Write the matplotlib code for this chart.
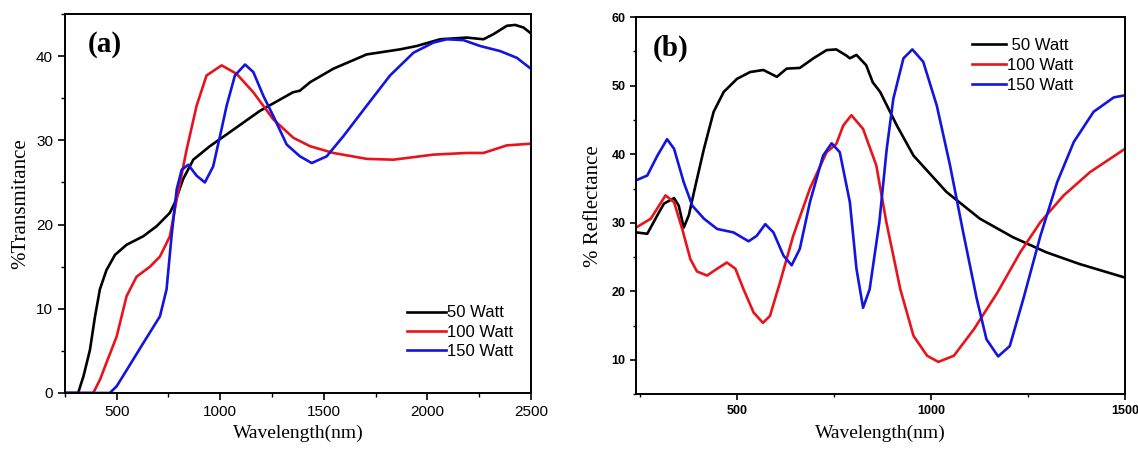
import matplotlib
matplotlib.use("Agg")
import matplotlib.pyplot as plt
import matplotlib.transforms as mtransforms
from matplotlib.ticker import MultipleLocator

# ---------------- Panel (a): Transmittance ----------------
a_50_x = [250, 314, 340, 371, 395, 419, 451, 492, 548, 628, 693, 757, 781, 821, 870, 950, 1031, 1192,
          1351, 1385, 1434, 1546, 1707, 1868, 1949, 2062, 2190, 2271, 2319, 2384, 2424, 2464, 2500]
a_50_y = [0, 0, 2.0, 5.1, 9.0, 12.3, 14.6, 16.4, 17.6, 18.6, 19.8, 21.4, 22.6, 25.4, 27.7, 29.3, 30.7,
          33.5, 35.7, 35.9, 36.9, 38.5, 40.2, 40.8, 41.2, 42.0, 42.2, 42.0, 42.6, 43.6, 43.7, 43.4, 42.7]

a_100_x = [250, 387, 420, 451, 500, 548, 596, 661, 709, 757, 790, 838, 886, 934, 1007, 1079, 1160, 1256,
           1353, 1434, 1546, 1707, 1836, 2029, 2190, 2271, 2384, 2500]
a_100_y = [0, 0, 1.6, 3.6, 6.7, 11.5, 13.8, 15.0, 16.2, 18.6, 23.0, 28.9, 34.1, 37.7, 38.9, 37.9, 35.7,
           32.5, 30.3, 29.3, 28.5, 27.8, 27.7, 28.3, 28.5, 28.5, 29.4, 29.6]

a_150_x = [250, 467, 500, 548, 628, 709, 741, 765, 790, 814, 846, 886, 926, 966, 999, 1031, 1071, 1120,
           1160, 1208, 1256, 1321, 1385, 1442, 1514, 1595, 1707, 1820, 1933, 2029, 2094, 2174, 2255,
           2351, 2432, 2500]
a_150_y = [0, 0, 0.8, 2.7, 5.9, 9.1, 12.3, 18.6, 24.2, 26.5, 27.1, 25.8, 25.0, 26.9, 30.5, 34.1, 37.7,
           39.0, 38.1, 35.3, 32.9, 29.5, 28.1, 27.3, 28.1, 30.5, 34.1, 37.7, 40.4, 41.6, 42.0, 41.9,
           41.2, 40.6, 39.8, 38.5]

# ---------------- Panel (b): Reflectance ----------------
b_50_x = [240, 269, 295, 312, 338, 350, 363, 376, 393, 415, 440, 466, 500, 534, 568, 603, 628, 662,
          697, 731, 756, 782, 791, 808, 833, 850, 869, 912, 955, 1040, 1126, 1211, 1297, 1382, 1500]
b_50_y = [28.6, 28.4, 31.1, 32.8, 33.6, 32.5, 29.3, 31.1, 35.4, 40.8, 46.2, 49.1, 51.0, 52.0, 52.3,
          51.3, 52.5, 52.6, 54.0, 55.2, 55.3, 54.4, 54.0, 54.5, 53.0, 50.5, 49.1, 44.2, 39.8, 34.5,
          30.6, 27.9, 25.7, 24.0, 22.0]

b_100_x = [240, 278, 316, 338, 359, 380, 397, 423, 449, 474, 496, 517, 543, 567, 585, 611, 645, 688,
           731, 756, 774, 795, 825, 859, 885, 921, 955, 990, 1019, 1059, 1111, 1171, 1230, 1282,
           1342, 1410, 1500]
b_100_y = [29.3, 30.6, 34.0, 33.0, 29.1, 24.7, 22.9, 22.3, 23.3, 24.2, 23.3, 20.3, 16.9, 15.4, 16.4,
           21.3, 28.1, 35.0, 40.3, 41.5, 44.2, 45.7, 43.7, 38.4, 30.1, 20.3, 13.5, 10.6, 9.7, 10.6,
           14.5, 19.8, 25.7, 30.1, 34.0, 37.4, 40.8]

b_150_x = [240, 269, 295, 320, 338, 363, 385, 415, 449, 491, 530, 551, 573, 594, 620, 641, 662, 688,
           722, 744, 765, 791, 808, 825, 842, 867, 886, 903, 929, 952, 980, 1015, 1049, 1083, 1118,
           1143, 1173, 1203, 1238, 1282, 1325, 1368, 1419, 1471, 1500]
b_150_y = [36.2, 36.9, 39.8, 42.2, 40.8, 35.9, 32.5, 30.6, 29.1, 28.6, 27.3, 28.1, 29.8, 28.6, 25.2,
           23.8, 26.2, 33.0, 39.8, 41.6, 40.3, 33.0, 23.3, 17.6, 20.3, 30.1, 40.8, 48.1, 54.0, 55.3,
           53.5, 47.1, 38.4, 28.6, 18.9, 13.0, 10.5, 12.0, 18.9, 28.1, 35.9, 41.8, 46.2, 48.3, 48.6]

labels_a = ["50 Watt", "100 Watt", "150 Watt"]
labels_b = [" 50 Watt", "100 Watt", "150 Watt"]
colors = ["#000000", "#e8141b", "#1414e0"]

serif = "Liberation Serif"
sans = "Liberation Sans"

fig = plt.figure(figsize=(11.38, 4.53), dpi=100)
axa = fig.add_axes([0.057, 0.1325, 0.4095, 0.8366])
axb = fig.add_axes([0.5589, 0.130, 0.4297, 0.832])

lw = 1.9
for x, y, c, l in zip([a_50_x, a_100_x, a_150_x], [a_50_y, a_100_y, a_150_y], colors, labels_a):
    axa.plot(x, y, color=c, lw=lw, label=l, solid_joinstyle="round")
for x, y, c, l in zip([b_50_x, b_100_x, b_150_x], [b_50_y, b_100_y, b_150_y], colors, labels_b):
    axb.plot(x, y, color=c, lw=lw, label=l, solid_joinstyle="round")

# Panel (a) axes styling
axa.set_xlim(250, 2500)
axa.set_ylim(0, 45)
axa.xaxis.set_major_locator(MultipleLocator(500))
axa.xaxis.set_minor_locator(MultipleLocator(250))
axa.yaxis.set_major_locator(MultipleLocator(10))
axa.yaxis.set_minor_locator(MultipleLocator(5))
axa.set_xlabel("Wavelength(nm)", fontfamily=serif, fontsize=14, labelpad=4)
axa.set_ylabel("%Transmitance", fontfamily=serif, fontsize=15, labelpad=4)
axa.text(0.05, 0.955, "(a)", transform=axa.transAxes, fontfamily=serif, fontweight="bold",
         fontsize=21, va="top", ha="left")
for lab in axa.get_xticklabels() + axa.get_yticklabels():
    lab.set_fontfamily(sans)
    lab.set_fontsize(11)
axa.tick_params(which="major", direction="out", length=5, width=1.2, top=False, right=False)
axa.tick_params(which="minor", direction="out", length=3, width=1.0, top=False, right=False)
for s in axa.spines.values():
    s.set_linewidth(1.4)
la = axa.legend(loc="lower right", frameon=False,
                prop={"family": sans, "size": 12}, handlelength=2.3, handletextpad=0.1,
                labelspacing=0.25, borderaxespad=1.2)
la.set_bbox_to_anchor((1.02, 0.02), transform=axa.transAxes)

# Panel (b) axes styling
axb.set_xlim(240, 1500)
axb.set_ylim(5, 60)
axb.xaxis.set_major_locator(MultipleLocator(500))
axb.xaxis.set_minor_locator(MultipleLocator(250))
axb.yaxis.set_major_locator(MultipleLocator(10))
axb.yaxis.set_minor_locator(MultipleLocator(5))
axb.set_yticks([10, 20, 30, 40, 50, 60])
axb.set_xlabel("Wavelength(nm)", fontfamily=serif, fontsize=14, labelpad=6)
axb.set_ylabel("% Reflectance", fontfamily=serif, fontsize=15, labelpad=6)
axb.text(0.035, 0.955, "(b)", transform=axb.transAxes, fontfamily=serif, fontweight="bold",
         fontsize=21, va="top", ha="left")
for lab in axb.get_xticklabels() + axb.get_yticklabels():
    lab.set_fontfamily(sans)
    lab.set_fontsize(9)
    lab.set_fontweight("bold")
axb.tick_params(which="major", direction="out", length=4, width=1.2, top=False, right=False)
axb.tick_params(which="minor", direction="out", length=2.5, width=1.0, top=False, right=False)
for s in axb.spines.values():
    s.set_linewidth(1.4)
# nudge the last x tick label so it stays inside the figure
last = axb.get_xticklabels()[-1]
last.set_transform(last.get_transform() + mtransforms.ScaledTranslation(-5 / 100, 0, fig.dpi_scale_trans))
lb = axb.legend(loc="upper right", frameon=False, prop={"family": sans, "size": 12},
                handlelength=2.0, handletextpad=0.1, labelspacing=0.3,
                bbox_to_anchor=(0.925, 0.985))

fig.savefig("out.png", dpi=100)
